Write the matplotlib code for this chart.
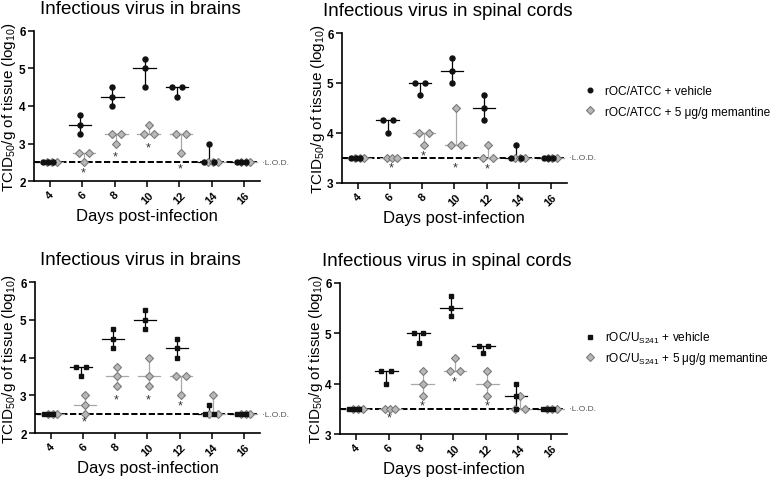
import numpy as np
import matplotlib
matplotlib.use('Agg')
import matplotlib.pyplot as plt
from matplotlib.lines import Line2D

plt.rcParams['font.family'] = ['Liberation Sans', 'DejaVu Sans']
plt.rcParams['mathtext.fontset'] = 'custom'
plt.rcParams['mathtext.rm'] = 'Liberation Sans'
plt.rcParams['mathtext.it'] = 'Liberation Sans:italic'
plt.rcParams['mathtext.bf'] = 'Liberation Sans:bold'

days = [4, 6, 8, 10, 12, 14, 16]

# brains, rOC/ATCC (log10 TCID50/g, 3 mice per day)
brain_atcc_veh = [[2.5, 2.5, 2.5], [3.75, 3.5, 3.25], [4.5, 4.25, 4.0], [5.25, 5.0, 4.5],
                  [4.5, 4.5, 4.25], [3.0, 2.5, 2.5], [2.5, 2.5, 2.5]]
brain_atcc_mem = [[2.5, 2.5, 2.5], [2.75, 2.75, 2.5], [3.25, 3.25, 3.0], [3.5, 3.25, 3.25],
                  [3.25, 3.25, 2.75], [2.5, 2.5, 2.5], [2.5, 2.5, 2.5]]
brain_atcc_star = {6: 2.24, 8: 2.66, 10: 2.9, 12: 2.33}

# spinal cords, rOC/ATCC
spinal_atcc_veh = [[3.5, 3.5, 3.5], [4.25, 4.25, 4.0], [5.0, 5.0, 4.75], [5.5, 5.25, 5.0],
                   [4.75, 4.5, 4.25], [3.75, 3.5, 3.5], [3.5, 3.5, 3.5]]
spinal_atcc_mem = [[3.5, 3.5, 3.5], [3.5, 3.5, 3.5], [4.0, 4.0, 3.75], [4.5, 3.75, 3.75],
                   [3.75, 3.5, 3.5], [3.5, 3.5, 3.5], [3.5, 3.5, 3.5]]
spinal_atcc_star = {6: 3.31, 8: 3.55, 10: 3.31, 12: 3.3}

# brains, rOC/US241
brain_us_veh = [[2.5, 2.5, 2.5], [3.75, 3.75, 3.5], [4.75, 4.5, 4.25], [5.25, 5.0, 4.75],
                [4.5, 4.25, 4.0], [2.75, 2.5, 2.5], [2.5, 2.5, 2.5]]
brain_us_mem = [[2.5, 2.5, 2.5], [3.0, 2.75, 2.5], [3.75, 3.5, 3.25], [4.0, 3.5, 3.25],
                [3.5, 3.5, 3.0], [3.0, 2.5, 2.5], [2.5, 2.5, 2.5]]
brain_us_star = {6: 2.31, 8: 2.88, 10: 2.9, 12: 2.73}

# spinal cords, rOC/US241
spinal_us_veh = [[3.5, 3.5, 3.5], [4.25, 4.25, 4.0], [5.0, 5.0, 4.8], [5.75, 5.5, 5.35],
                 [4.75, 4.75, 4.6], [4.0, 3.75, 3.5], [3.5, 3.5, 3.5]]
spinal_us_mem = [[3.5, 3.5, 3.5], [3.5, 3.5, 3.5], [4.25, 4.0, 3.75], [4.5, 4.25, 4.25],
                 [4.25, 4.0, 3.75], [3.75, 3.5, 3.5], [3.5, 3.5, 3.5]]
spinal_us_star = {6: 3.33, 8: 3.56, 10: 4.05, 12: 3.56}

lod_brain = 2.5
lod_spinal = 3.5

title_brain = 'Infectious virus in brains'
title_spinal = 'Infectious virus in spinal cords'
ylabel = r'TCID$_{50}$/g of tissue (log$_{10}$)'
xlabel = 'Days post-infection'
legend_atcc = ['rOC/ATCC + vehicle', 'rOC/ATCC + 5 μg/g memantine']
legend_us = [r'rOC/U$_{\mathrm{S241}}$ + vehicle', r'rOC/U$_{\mathrm{S241}}$ + 5 μg/g memantine']

GRAY_FACE = '#b8b8b8'
GRAY_EDGE = '#7a7a7a'
GRAY_LINE = '#a8a8a8'
W, H = 777, 481


def spread(vals, center):
    # spread identical values sideways like a column scatter
    xs = []
    vals = list(vals)
    seen = {}
    for v in vals:
        n = vals.count(v)
        k = seen.get(v, 0)
        seen[v] = k + 1
        off = 0.0 if n == 1 else np.linspace(-0.3, 0.3, n)[k]
        xs.append(center + off)
    return xs


def draw_panel(ax, veh, mem, stars, lod, ylim, yticks, title, veh_marker, ylab_px):
    for d, v, m in zip(days, veh, mem):
        for vals, off, col, is_veh in [(v, -0.15, 'black', True), (m, 0.1, GRAY_LINE, False)]:
            c = d + off
            med = np.median(vals)
            ax.plot([c - 0.7, c + 0.7], [med, med], color=col, lw=0.9, zorder=2)
            ax.plot([c, c], [min(vals), max(vals)], color=col, lw=0.9, zorder=2)
            xs = spread(vals, c)
            if is_veh:
                ms = 3.6 if veh_marker == 'o' else 3.3
                ax.plot(xs, vals, linestyle='none', marker=veh_marker, ms=ms,
                        color='#111111', zorder=4)
            else:
                ax.plot(xs, vals, linestyle='none', marker='D', ms=4.2,
                        markerfacecolor=GRAY_FACE, markeredgecolor=GRAY_EDGE,
                        markeredgewidth=0.8, zorder=3)
    for d, y in stars.items():
        ax.text(d + 0.05, y, '*', ha='center', va='center', fontsize=9, color='#333333', zorder=5)

    ax.axhline(lod, xmin=0, xmax=0.985, color='black', lw=1.4, dashes=(3.2, 1.3), zorder=1)
    ax.text(17.1, lod, '·L.O.D.', fontsize=6, color='#555555', va='center', ha='left',
            clip_on=False)

    ax.set_xlim(3, 17)
    ax.set_ylim(*ylim)
    ax.set_xticks(days)
    ax.set_xticklabels([str(d) for d in days], rotation=45, ha='center',
                       fontsize=8, fontweight='bold')
    ax.set_yticks(yticks)
    ax.set_yticklabels([str(t) for t in yticks], fontsize=8.5, fontweight='bold')
    ax.tick_params(axis='both', direction='out', length=4, width=1.1, pad=2)
    for side in ['top', 'right']:
        ax.spines[side].set_visible(False)
    for side in ['left', 'bottom']:
        ax.spines[side].set_linewidth(1.2)
    ax.set_title(title, fontsize=13.5, x=0.47, pad=13)
    ax.set_ylabel(ylabel, fontsize=11)
    # place y label so its right edge sits at ylab_px (figure pixels)
    pos = ax.get_position()
    ax.yaxis.set_label_coords((ylab_px / W - pos.x0) / pos.width, 0.5)
    ax.set_xlabel(xlabel, fontsize=12, labelpad=2)


fig = plt.figure(figsize=(7.77, 4.81), dpi=100)

ax1 = fig.add_axes([0.0438, 0.6216, 0.2909, 0.3119])
ax2 = fig.add_axes([0.4400, 0.6175, 0.2896, 0.3118])
ax3 = fig.add_axes([0.0450, 0.0977, 0.2896, 0.3139])
ax4 = fig.add_axes([0.4376, 0.0956, 0.2920, 0.3140])

draw_panel(ax1, brain_atcc_veh, brain_atcc_mem, brain_atcc_star, lod_brain,
           (2, 6), [2, 3, 4, 5, 6], title_brain, 'o', 18)
draw_panel(ax2, spinal_atcc_veh, spinal_atcc_mem, spinal_atcc_star, lod_spinal,
           (3, 6), [3, 4, 5, 6], title_spinal, 'o', 327)
draw_panel(ax3, brain_us_veh, brain_us_mem, brain_us_star, lod_brain,
           (2, 6), [2, 3, 4, 5, 6], title_brain, 's', 18)
draw_panel(ax4, spinal_us_veh, spinal_us_mem, spinal_us_star, lod_spinal,
           (3, 6), [3, 4, 5, 6], title_spinal, 's', 325)

for labels, marker, ypos, spacing in [(legend_atcc, 'o', 0.787, 0.7), (legend_us, 's', 0.274, 0.45)]:
    handles = [
        Line2D([], [], linestyle='none', marker=marker, ms=3.3, color='#111111'),
        Line2D([], [], linestyle='none', marker='D', ms=4.2, markerfacecolor=GRAY_FACE,
               markeredgecolor=GRAY_EDGE, markeredgewidth=0.8),
    ]
    fig.legend(handles, labels, loc='center left', bbox_to_anchor=(0.746, ypos),
               frameon=False, fontsize=8.6, handlelength=1.0, handletextpad=0.7,
               labelspacing=spacing, borderaxespad=0)

fig.savefig('out.png', dpi=100)
